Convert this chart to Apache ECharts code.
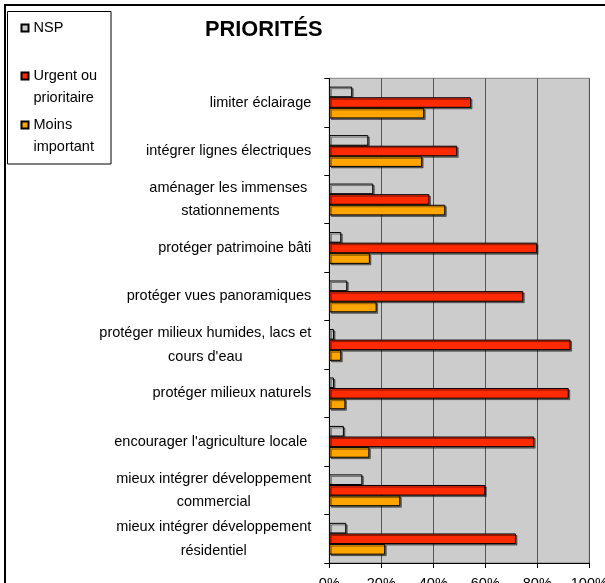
<!DOCTYPE html>
<html>
<head>
<meta charset="utf-8">
<script src="https://cdn.jsdelivr.net/npm/echarts@6/dist/echarts.min.js"></script>
<style>
html,body{margin:0;padding:0;background:#fff;}
#chart{width:605px;height:583px;}
</style>
</head>
<body>
<div id="chart"></div>
<script>
var categories = [
  'limiter éclairage',
  'intégrer lignes électriques',
  'aménager les immenses \nstationnements',
  'protéger patrimoine bâti',
  'protéger vues panoramiques',
  "protéger milieux humides, lacs et\ncours d'eau",
  'protéger milieux naturels',
  "encourager l'agriculture locale ",
  'mieux intégrer développement\ncommercial',
  'mieux intégrer développement\nrésidentiel'
];
var seriesNames = ['NSP', 'Urgent ou prioritaire', 'Moins important'];
var nspValues = [8.8, 15.0, 16.9, 4.6, 6.9, 1.8, 1.8, 5.6, 12.7, 6.5];
var urgentValues = [54.5, 49.2, 38.5, 79.9, 74.6, 92.8, 92.1, 78.8, 60.0, 71.8];
var moinsValues = [36.5, 35.7, 44.6, 15.6, 18.2, 4.6, 6.2, 15.4, 27.3, 21.5];
var xTicks = [0, 20, 40, 60, 80, 100];

var FONT = "'Liberation Sans', Arial, sans-serif";
var FS = 14.5;

function barSeries(name, values, color) {
  return {
    name: name,
    type: 'bar',
    data: values,
    barWidth: 10.6,
    barGap: '0%',
    itemStyle: {
      color: color,
      borderColor: '#000',
      borderWidth: 1,
      shadowColor: 'rgba(0,0,0,0.45)',
      shadowOffsetX: 1.5,
      shadowOffsetY: 1.5,
      shadowBlur: 0
    },
    emphasis: { disabled: true }
  };
}

function legendFor(name, left, top) {
  return {
    data: [name],
    left: left,
    top: top,
    orient: 'vertical',
    padding: 0,
    itemWidth: 7,
    itemHeight: 7,
    icon: 'rect',
    selectedMode: false,
    formatter: function (n) {
      return n === 'Urgent ou prioritaire' ? ' \nUrgent ou\nprioritaire' :
             n === 'Moins important' ? ' \nMoins\nimportant' : n;
    },
    textStyle: {
      fontFamily: FONT,
      fontSize: FS,
      color: '#000',
      lineHeight: 22
    }
  };
}

var chart = echarts.init(document.getElementById('chart'), null, { renderer: 'canvas' });
chart.setOption({
  animation: false,
  backgroundColor: '#fff',
  title: {
    text: 'PRIORITÉS',
    left: 205,
    top: 19,
    padding: 0,
    textStyle: { fontFamily: FONT, fontSize: 21.8, fontWeight: 'bold', color: '#000' }
  },
  graphic: [
    {
      type: 'rect', z: 0, silent: true,
      shape: { x: 5, y: 5, width: 800, height: 800 },
      style: { fill: 'none', stroke: '#000', lineWidth: 2 }
    },
    {
      type: 'rect', z: 1, silent: true,
      shape: { x: 7.5, y: 11.5, width: 103.5, height: 152.5 },
      style: { fill: '#fff', stroke: '#000', lineWidth: 1 }
    }
  ],
  legend: [
    legendFor('NSP', 20.5, 17),
    legendFor('Urgent ou prioritaire', 20.5, 43),
    legendFor('Moins important', 20.5, 92)
  ],
  grid: {
    left: 329.3,
    right: 15.7,
    top: 78.3,
    bottom: 20,
    show: true,
    backgroundColor: '#cccccc',
    borderColor: '#808080',
    borderWidth: 1,
    containLabel: false,
    outerBoundsMode: 'none'
  },
  xAxis: {
    type: 'value',
    min: xTicks[0],
    max: xTicks[xTicks.length - 1],
    interval: 20,
    axisLine: { show: true, lineStyle: { color: '#000', width: 1 } },
    axisTick: { show: true, length: 5, lineStyle: { color: '#000' } },
    splitLine: { show: true, lineStyle: { color: '#555', width: 1 } },
    axisLabel: {
      formatter: '{value}%',
      margin: 13,
      fontFamily: FONT,
      fontSize: FS,
      color: '#000'
    }
  },
  yAxis: {
    type: 'category',
    inverse: true,
    data: categories,
    axisLine: { show: true, lineStyle: { color: '#000', width: 1 } },
    axisTick: { show: true, length: 5, lineStyle: { color: '#000' } },
    splitLine: { show: false },
    axisLabel: {
      interval: 0,
      margin: 18,
      align: 'right',
      fontFamily: FONT,
      fontSize: FS,
      color: '#000',
      formatter: function (v) {
        return v.split('\n').map(function (l) { return '{c|' + l + '}'; }).join('\n');
      },
      rich: {
        c: { align: 'center', fontFamily: FONT, fontSize: FS, lineHeight: 23.5, color: '#000' }
      }
    }
  },
  series: [
    barSeries(seriesNames[0], nspValues, '#cccccc'),
    barSeries(seriesNames[1], urgentValues, '#ff2a00'),
    barSeries(seriesNames[2], moinsValues, '#ffa500')
  ]
});
</script>
</body>
</html>
